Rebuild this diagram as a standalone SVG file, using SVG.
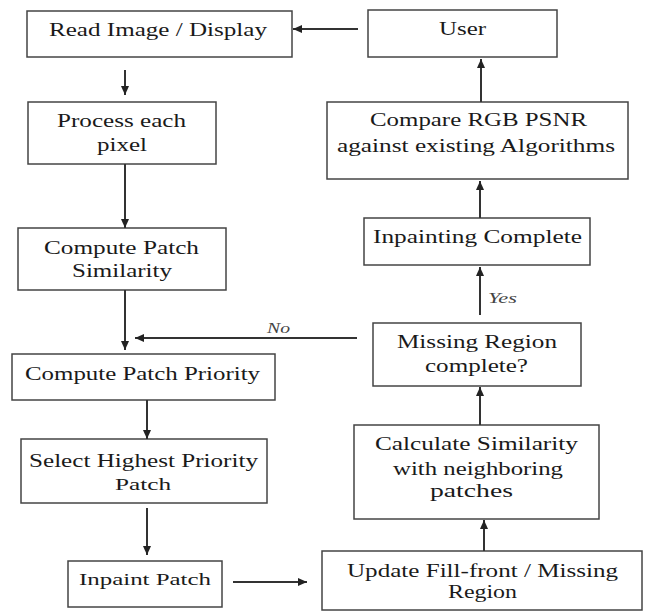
<svg xmlns="http://www.w3.org/2000/svg" width="646" height="612" viewBox="0 0 646 612">
<defs>
<marker id="ah" markerUnits="userSpaceOnUse" markerWidth="10" markerHeight="10" refX="9" refY="5" orient="auto">
<path d="M0,1 L9,5 L0,9 Z" fill="#222"/>
</marker>
<style>
.box{fill:#fff;stroke:#444;stroke-width:1.5}
.t{font-family:"Liberation Serif","Times New Roman",serif;font-size:18px;fill:#1a1a1a;text-anchor:middle}
.s{font-size:16px}
.lab{font-family:"Liberation Serif","Times New Roman",serif;font-size:14px;font-style:italic;fill:#444}
.c{stroke:#333;stroke-width:2;fill:none;marker-end:url(#ah)}
</style>
</defs>
<rect width="646" height="612" fill="#fff"/>
<g id="read"><rect class="box" x="27" y="11" width="265" height="46"/><text class="t" x="158" y="36" textLength="218" lengthAdjust="spacingAndGlyphs">Read Image / Display</text></g>
<g id="user"><rect class="box" x="368" y="10" width="189" height="47"/><text class="t" x="462.5" y="35" textLength="47" lengthAdjust="spacingAndGlyphs">User</text></g>
<g id="process"><rect class="box" x="28" y="102" width="188" height="62"/><text class="t" x="121.5" y="127" textLength="129" lengthAdjust="spacingAndGlyphs">Process each</text><text class="t" x="122" y="151" textLength="50" lengthAdjust="spacingAndGlyphs">pixel</text></g>
<g id="compare"><rect class="box" x="327" y="102" width="301" height="77"/><text class="t" x="478.5" y="126" textLength="217" lengthAdjust="spacingAndGlyphs">Compare RGB PSNR</text><text class="t" x="476" y="152" textLength="278" lengthAdjust="spacingAndGlyphs">against existing Algorithms</text></g>
<g id="similarity"><rect class="box" x="18" y="228" width="208" height="62"/><text class="t" x="121.5" y="254" textLength="155" lengthAdjust="spacingAndGlyphs">Compute Patch</text><text class="t" x="122" y="277" textLength="100" lengthAdjust="spacingAndGlyphs">Similarity</text></g>
<g id="inpaintComplete"><rect class="box" x="364" y="218" width="226" height="47"/><text class="t" x="477.5" y="243" textLength="209" lengthAdjust="spacingAndGlyphs">Inpainting Complete</text></g>
<g id="missing"><rect class="box" x="373" y="323" width="208" height="63"/><text class="t" x="477" y="348" textLength="160" lengthAdjust="spacingAndGlyphs">Missing Region</text><text class="t" x="476.5" y="372" textLength="103" lengthAdjust="spacingAndGlyphs">complete?</text></g>
<g id="priority"><rect class="box" x="12" y="354" width="263" height="46"/><text class="t" x="142.5" y="380" textLength="235" lengthAdjust="spacingAndGlyphs">Compute Patch Priority</text></g>
<g id="select"><rect class="box" x="21" y="439" width="246" height="64"/><text class="t" x="143.5" y="467" textLength="229" lengthAdjust="spacingAndGlyphs">Select Highest Priority</text><text class="t s" x="143" y="490" textLength="56" lengthAdjust="spacingAndGlyphs">Patch</text></g>
<g id="calculate"><rect class="box" x="354" y="425" width="245" height="94"/><text class="t" x="476.5" y="450" textLength="203" lengthAdjust="spacingAndGlyphs">Calculate Similarity</text><text class="t" x="478" y="475" textLength="170" lengthAdjust="spacingAndGlyphs">with neighboring</text><text class="t" x="471.5" y="497" textLength="83" lengthAdjust="spacingAndGlyphs">patches</text></g>
<g id="inpaint"><rect class="box" x="68" y="561" width="154" height="46"/><text class="t s" x="145" y="585" textLength="132" lengthAdjust="spacingAndGlyphs">Inpaint Patch</text></g>
<g id="update"><rect class="box" x="322" y="551" width="320" height="59"/><text class="t" x="482.5" y="577" textLength="271" lengthAdjust="spacingAndGlyphs">Update Fill-front / Missing</text><text class="t" x="482.5" y="598" textLength="69" lengthAdjust="spacingAndGlyphs">Region</text></g>
<g id="connectors">
<line class="c" x1="358" y1="29" x2="293" y2="29"/>
<line class="c" x1="125" y1="70" x2="125" y2="95"/>
<line class="c" x1="125" y1="164" x2="125" y2="228"/>
<line class="c" x1="125" y1="290" x2="125" y2="350"/>
<line class="c" x1="357" y1="338" x2="135" y2="338"/>
<line class="c" x1="147" y1="400" x2="147" y2="439"/>
<line class="c" x1="147" y1="508" x2="147" y2="555"/>
<line class="c" x1="233" y1="582" x2="307" y2="582"/>
<line class="c" x1="484" y1="551" x2="484" y2="520"/>
<line class="c" x1="480" y1="425" x2="480" y2="387"/>
<line class="c" x1="480" y1="315" x2="480" y2="267"/>
<line class="c" x1="480" y1="218" x2="480" y2="181"/>
<line class="c" x1="481" y1="102" x2="481" y2="59"/>
<text class="lab" x="267" y="333" textLength="23" lengthAdjust="spacingAndGlyphs">No</text>
<text class="lab" x="488" y="303" textLength="29" lengthAdjust="spacingAndGlyphs">Yes</text>
</g>
</svg>
